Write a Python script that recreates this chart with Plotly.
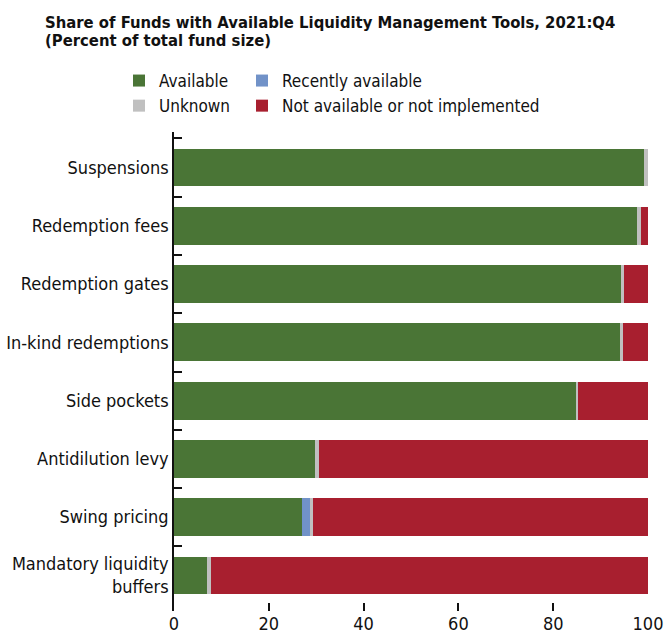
import plotly.graph_objects as go

categories = ["Suspensions", "Redemption fees", "Redemption gates", "In-kind redemptions",
              "Side pockets", "Antidilution levy", "Swing pricing",
              "Mandatory liquidity<br>buffers"]
available = [99.2, 97.7, 94.3, 94.1, 84.8, 29.7, 27.0, 7.0]
recently_available = [0.0, 0.0, 0.0, 0.0, 0.0, 0.0, 1.7, 0.0]
unknown = [0.8, 0.8, 0.6, 0.6, 0.5, 0.9, 0.6, 0.8]
not_available = [0.0, 1.5, 5.1, 5.3, 14.7, 69.4, 70.7, 92.2]
x_ticks = [0, 20, 40, 60, 80, 100]
title_lines = ["Share of Funds with Available Liquidity Management Tools, 2021:Q4",
               "(Percent of total fund size)"]

FONT = "DejaVu Sans Condensed, Roboto, sans-serif"
GREEN = "#4a7536"
BLUE = "#7192c8"
GRAY = "#c0c0c0"
RED = "#a81f2f"
FS = 18

# plot area in pixels: left 174, right 648, top 132, bottom 611
def px_x(p):
    return (p - 174) / 474

def px_y(p):
    return 1 + (132 - p) / 479

fig = go.Figure()
fig.add_trace(go.Bar(y=categories, x=available, name="Available", orientation="h",
                     marker=dict(color=GREEN, line=dict(width=0)), legend="legend"))
fig.add_trace(go.Bar(y=categories, x=recently_available, name="Recently available", orientation="h",
                     marker=dict(color=BLUE, line=dict(width=0)), legend="legend2"))
fig.add_trace(go.Bar(y=categories, x=unknown, name="Unknown", orientation="h",
                     marker=dict(color=GRAY, line=dict(width=0)), legend="legend"))
fig.add_trace(go.Bar(y=categories, x=not_available, name="Not available or not implemented",
                     orientation="h", marker=dict(color=RED, line=dict(width=0)), legend="legend2"))

legend_common = dict(orientation="v", xanchor="left", yanchor="top", bgcolor="rgba(0,0,0,0)",
                     font=dict(family=FONT, size=17, color="#111"),
                     tracegroupgap=0, itemwidth=30, traceorder="normal")

annotations = []
for i, (line, py) in enumerate(zip(title_lines, [22, 41])):
    annotations.append(dict(text="<b>" + line + "</b>", xref="paper", yref="paper",
                            x=px_x(43), y=px_y(py), xanchor="left", yanchor="middle",
                            showarrow=False, font=dict(family=FONT, size=16.5, color="#111")))

fig.update_layout(
    width=665, height=639,
    barmode="stack", bargap=0.35,
    paper_bgcolor="white", plot_bgcolor="white",
    margin=dict(l=174, r=17, t=132, b=28, autoexpand=False),
    font=dict(family=FONT, size=FS, color="#111"),
    annotations=annotations,
    legend=dict(x=px_x(119), y=px_y(63), **legend_common),
    legend2=dict(x=px_x(242), y=px_y(63), **legend_common),
    xaxis=dict(range=[0, 100], tickvals=x_ticks, ticktext=[str(v) for v in x_ticks],
               ticks="inside", ticklen=8, tickcolor="#111", tickwidth=1.5,
               showline=False, showgrid=False, zeroline=False,
               tickfont=dict(family=FONT, size=FS, color="#111")),
    yaxis=dict(autorange=False, range=[7.61, -0.61], type="category",
               categoryorder="array", categoryarray=categories,
               tickson="boundaries", ticks="inside", ticklen=8, tickcolor="#111", tickwidth=1.5,
               showline=True, linecolor="#111", linewidth=1.5,
               showgrid=False, zeroline=False,
               tickfont=dict(family=FONT, size=FS, color="#111")),
)

fig.write_html("out.html", config={"displayModeBar": False},
               post_script="document.body.style.margin='0';document.body.style.overflow='hidden';")
